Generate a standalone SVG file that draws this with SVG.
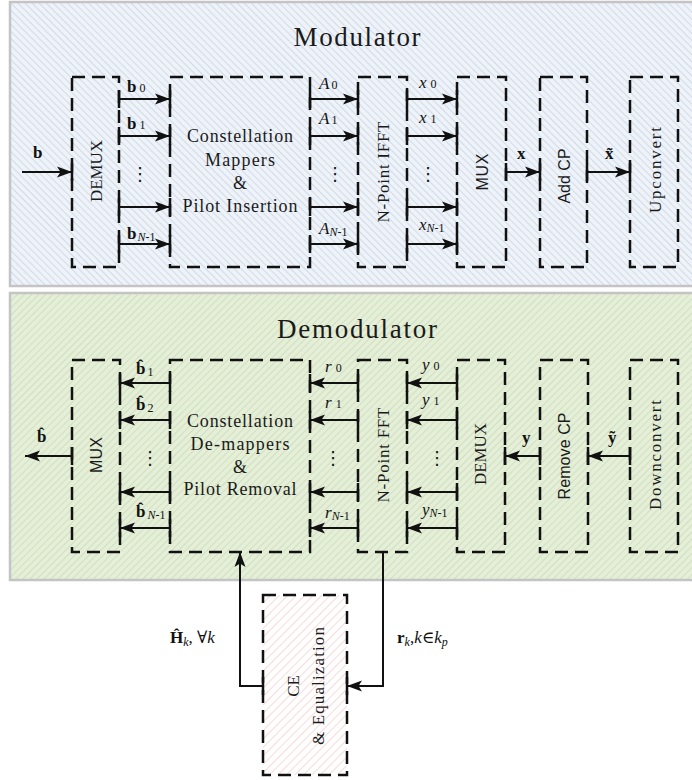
<svg xmlns="http://www.w3.org/2000/svg" width="692" height="780" viewBox="0 0 692 780">
  <defs>
    <pattern id="hatchMod" patternUnits="userSpaceOnUse" width="5" height="5" patternTransform="rotate(-45)">
      <rect width="5" height="5" fill="#eef3fa"/>
      <line x1="0" y1="0" x2="0" y2="5" stroke="#c0cad7" stroke-width="1.2"/>
    </pattern>
    <pattern id="hatchDem" patternUnits="userSpaceOnUse" width="5" height="5" patternTransform="rotate(45)">
      <rect width="5" height="5" fill="#e5efd8"/>
      <line x1="0" y1="0" x2="0" y2="5" stroke="#c3d4b0" stroke-width="1.2"/>
    </pattern>
    <pattern id="hatchCE" patternUnits="userSpaceOnUse" width="6" height="6" patternTransform="rotate(45)">
      <rect width="6" height="6" fill="#ffffff"/>
      <line x1="0" y1="0" x2="0" y2="6" stroke="#f5c2c2" stroke-width="1.2"/>
    </pattern>
    <marker id="ah" markerUnits="userSpaceOnUse" markerWidth="16" markerHeight="12" refX="15" refY="6" orient="auto">
      <path d="M0,0.5 L15,6 L0,11.5 L3.5,6 Z" fill="#111"/>
    </marker>
    <style>
      .panelM { fill: url(#hatchMod); stroke: #c4c4c4; stroke-width: 2.5; }
      .panelD { fill: url(#hatchDem); stroke: #c4c4c4; stroke-width: 2.5; }
      .blk { fill: none; stroke: #111; stroke-width: 2.5; stroke-dasharray: 13 7; }
      .ce { fill: url(#hatchCE); stroke: #111; stroke-width: 2.5; stroke-dasharray: 13 7; }
      .tick { stroke: #111; stroke-width: 2.5; fill: none; }
      .wire { stroke: #111; stroke-width: 2; fill: none; marker-end: url(#ah); }
      .title { font-family: "Liberation Serif", serif; font-size: 27px; fill: #1a1a1a; text-anchor: middle; }
      .body { font-family: "Liberation Serif", serif; font-size: 18px; fill: #1a1a1a; text-anchor: middle; }
      .serif { font-family: "Liberation Serif", serif; font-size: 17px; fill: #1a1a1a; text-anchor: middle; }
      .sans { font-family: "Liberation Sans", sans-serif; font-size: 16px; fill: #1a1a1a; text-anchor: middle; }
      .m { font-family: "Liberation Serif", "DejaVu Serif", serif; font-size: 17px; fill: #111; }
      .bold { font-weight: bold; }
      .it { font-style: italic; }
      .sub { font-size: 12px; }
      .dots { font-family: "DejaVu Sans", sans-serif; font-size: 18px; fill: #111; text-anchor: middle; }
    </style>
  </defs>

  <!-- background panels -->
  <g id="modulator-panel">
    <rect class="panelM" x="10" y="2" width="690" height="284"/>
    <text class="title" x="357" y="46" textLength="127" lengthAdjust="spacing">Modulator</text>
  </g>
  <g id="demodulator-panel">
    <rect class="panelD" x="10" y="293" width="690" height="287"/>
    <text class="title" x="357" y="338" textLength="160" lengthAdjust="spacing">Demodulator</text>
  </g>

  <!-- modulator blocks -->
  <g id="mod-demux">
    <rect class="blk" x="72" y="77" width="47" height="190"/>
    <path class="tick" d="M72,163 V181 M119,90 V108 M119,127 V145 M119,198 V216 M119,235 V253"/>
    <text class="serif" transform="translate(96,171) rotate(-90)" dy="6" textLength="62" lengthAdjust="spacingAndGlyphs">DEMUX</text>
  </g>
  <g id="mod-mapper">
    <rect class="blk" x="170" y="77" width="140" height="190"/>
    <path class="tick" d="M170,90 V108 M170,127 V145 M170,198 V216 M170,235 V253 M310,90 V108 M310,127 V145 M310,198 V216 M310,235 V253"/>
    <text class="body" x="240" y="142" textLength="106" lengthAdjust="spacing">Constellation</text>
    <text class="body" x="240" y="166" textLength="70" lengthAdjust="spacing">Mappers</text>
    <text class="body" x="240" y="189">&amp;</text>
    <text class="body" x="240" y="212" textLength="115" lengthAdjust="spacing">Pilot Insertion</text>
  </g>
  <g id="mod-ifft">
    <rect class="blk" x="358" y="77" width="49" height="190"/>
    <path class="tick" d="M358,90 V108 M358,127 V145 M358,198 V216 M358,235 V253 M407,90 V108 M407,127 V145 M407,198 V216 M407,235 V253"/>
    <text class="serif" transform="translate(383,172) rotate(-90)" dy="6" textLength="101" lengthAdjust="spacing">N-Point IFFT</text>
  </g>
  <g id="mod-mux">
    <rect class="blk" x="457" y="77" width="49" height="190"/>
    <path class="tick" d="M457,90 V108 M457,127 V145 M457,198 V216 M457,235 V253 M506,163 V181"/>
    <text class="sans" transform="translate(482,172) rotate(-90)" dy="6" textLength="37" lengthAdjust="spacing">MUX</text>
  </g>
  <g id="mod-addcp">
    <rect class="blk" x="540" y="77" width="47" height="190"/>
    <path class="tick" d="M540,163 V181 M587,163 V181"/>
    <text class="sans" transform="translate(564,176) rotate(-90)" dy="6" font-size="15">Add CP</text>
  </g>
  <g id="mod-upconvert">
    <rect class="blk" x="630" y="77" width="48" height="190"/>
    <path class="tick" d="M630,163 V181"/>
    <text class="serif" transform="translate(655,170) rotate(-90)" dy="6" textLength="86" lengthAdjust="spacing">Upconvert</text>
  </g>

  <!-- demodulator blocks -->
  <g id="dem-mux">
    <rect class="blk" x="72" y="360" width="48" height="192"/>
    <path class="tick" d="M72,447 V465 M120,374 V392 M120,411 V429 M120,483 V501 M120,519 V537"/>
    <text class="sans" transform="translate(96,455) rotate(-90)" dy="6" textLength="36" lengthAdjust="spacing">MUX</text>
  </g>
  <g id="dem-demapper">
    <rect class="blk" x="170" y="360" width="140" height="192"/>
    <path class="tick" d="M170,374 V392 M170,411 V429 M170,483 V501 M170,519 V537 M310,374 V392 M310,411 V429 M310,483 V501 M310,519 V537"/>
    <text class="body" x="240" y="427" textLength="106" lengthAdjust="spacing">Constellation</text>
    <text class="body" x="240" y="450" textLength="99" lengthAdjust="spacing">De-mappers</text>
    <text class="body" x="240" y="473">&amp;</text>
    <text class="body" x="240" y="495" textLength="113" lengthAdjust="spacing">Pilot Removal</text>
  </g>
  <g id="dem-fft">
    <rect class="blk" x="358" y="360" width="49" height="192"/>
    <path class="tick" d="M358,374 V392 M358,411 V429 M358,483 V501 M358,519 V537 M407,374 V392 M407,411 V429 M407,483 V501 M407,519 V537"/>
    <text class="serif" transform="translate(383,455) rotate(-90)" dy="6" textLength="95" lengthAdjust="spacing">N-Point FFT</text>
  </g>
  <g id="dem-demux">
    <rect class="blk" x="457" y="360" width="48" height="192"/>
    <path class="tick" d="M457,374 V392 M457,411 V429 M457,483 V501 M457,519 V537 M505,447 V465"/>
    <text class="serif" transform="translate(480,454) rotate(-90)" dy="6" textLength="62" lengthAdjust="spacingAndGlyphs">DEMUX</text>
  </g>
  <g id="dem-removecp">
    <rect class="blk" x="540" y="360" width="48" height="192"/>
    <path class="tick" d="M540,447 V465 M588,447 V465"/>
    <text class="sans" transform="translate(564,456) rotate(-90)" dy="6" textLength="87" lengthAdjust="spacing">Remove CP</text>
  </g>
  <g id="dem-downconvert">
    <rect class="blk" x="630" y="360" width="48" height="192"/>
    <path class="tick" d="M630,447 V465"/>
    <text class="serif" transform="translate(655,455) rotate(-90)" dy="6" textLength="110" lengthAdjust="spacing">Downconvert</text>
  </g>

  <!-- channel estimation block -->
  <g id="ce-equalization">
    <rect class="ce" x="263" y="595" width="84" height="180"/>
    <path class="tick" d="M263,677 V695 M347,677 V695"/>
    <text class="serif" transform="translate(293,686) rotate(-90)" dy="6" font-size="18">CE</text>
    <text class="serif" transform="translate(318,686) rotate(-90)" dy="6" textLength="118" lengthAdjust="spacing">&amp; Equalization</text>
  </g>

  <!-- connectors -->
  <g id="connectors">
    <!-- modulator chain -->
    <line class="wire" x1="22" y1="172" x2="72" y2="172"/>
    <line class="wire" x1="119" y1="99" x2="170" y2="99"/>
    <line class="wire" x1="119" y1="136" x2="170" y2="136"/>
    <line class="wire" x1="119" y1="207" x2="170" y2="207"/>
    <line class="wire" x1="119" y1="244" x2="170" y2="244"/>
    <line class="wire" x1="310" y1="99" x2="358" y2="99"/>
    <line class="wire" x1="310" y1="136" x2="358" y2="136"/>
    <line class="wire" x1="310" y1="207" x2="358" y2="207"/>
    <line class="wire" x1="310" y1="244" x2="358" y2="244"/>
    <line class="wire" x1="407" y1="99" x2="457" y2="99"/>
    <line class="wire" x1="407" y1="136" x2="457" y2="136"/>
    <line class="wire" x1="407" y1="207" x2="457" y2="207"/>
    <line class="wire" x1="407" y1="244" x2="457" y2="244"/>
    <line class="wire" x1="506" y1="172" x2="540" y2="172"/>
    <line class="wire" x1="587" y1="172" x2="630" y2="172"/>
    <!-- demodulator chain -->
    <line class="wire" x1="630" y1="456" x2="588" y2="456"/>
    <line class="wire" x1="540" y1="456" x2="505" y2="456"/>
    <line class="wire" x1="457" y1="383" x2="407" y2="383"/>
    <line class="wire" x1="457" y1="420" x2="407" y2="420"/>
    <line class="wire" x1="457" y1="492" x2="407" y2="492"/>
    <line class="wire" x1="457" y1="528" x2="407" y2="528"/>
    <line class="wire" x1="358" y1="383" x2="310" y2="383"/>
    <line class="wire" x1="358" y1="420" x2="310" y2="420"/>
    <line class="wire" x1="358" y1="492" x2="310" y2="492"/>
    <line class="wire" x1="358" y1="528" x2="310" y2="528"/>
    <line class="wire" x1="170" y1="383" x2="120" y2="383"/>
    <line class="wire" x1="170" y1="420" x2="120" y2="420"/>
    <line class="wire" x1="170" y1="492" x2="120" y2="492"/>
    <line class="wire" x1="170" y1="528" x2="120" y2="528"/>
    <line class="wire" x1="72" y1="456" x2="25" y2="456"/>
    <!-- channel estimation loop -->
    <path class="wire" d="M383,552 V686 H347"/>
    <path class="wire" d="M263,686 H240 V552"/>
  </g>

  <!-- signal labels: modulator -->
  <g id="mod-labels">
    <text class="m bold" x="33" y="158">b</text>
    <text class="m" x="127" y="92"><tspan class="bold">b</tspan><tspan class="sub" dx="3">0</tspan></text>
    <text class="m" x="127" y="129"><tspan class="bold">b</tspan><tspan class="sub" dx="3">1</tspan></text>
    <text class="dots" x="140" y="180">⋮</text>
    <text class="m" x="127" y="239"><tspan class="bold">b</tspan><tspan class="sub it" dx="1" dy="2">N</tspan><tspan class="sub">-1</tspan></text>
    <text class="m it" x="319" y="89">A<tspan class="sub" font-style="normal" dx="2">0</tspan></text>
    <text class="m it" x="319" y="124">A<tspan class="sub" font-style="normal" dx="2">1</tspan></text>
    <text class="dots" x="335" y="180">⋮</text>
    <text class="m it" x="319" y="234">A<tspan class="sub" dy="2">N</tspan><tspan class="sub" font-style="normal">-1</tspan></text>
    <text class="m it" x="419" y="88">x<tspan class="sub" font-style="normal" dx="4">0</tspan></text>
    <text class="m it" x="419" y="123">x<tspan class="sub" font-style="normal" dx="4">1</tspan></text>
    <text class="dots" x="428" y="180">⋮</text>
    <text class="m it" x="419" y="230">x<tspan class="sub" dy="2">N</tspan><tspan class="sub" font-style="normal">-1</tspan></text>
    <text class="m bold" x="517" y="159">x</text>
    <text class="m bold" x="605" y="159">x̃</text>
  </g>

  <!-- signal labels: demodulator -->
  <g id="dem-labels">
    <text class="m bold" x="37" y="442">b̂</text>
    <text class="m" x="136" y="374"><tspan class="bold">b̂</tspan><tspan class="sub" dx="2" dy="2">1</tspan></text>
    <text class="m" x="136" y="410"><tspan class="bold">b̂</tspan><tspan class="sub" dx="2" dy="2">2</tspan></text>
    <text class="dots" x="150" y="464">⋮</text>
    <text class="m" x="136" y="517"><tspan class="bold">b̂</tspan><tspan class="sub it" dx="2" dy="2">N</tspan><tspan class="sub">-1</tspan></text>
    <text class="m it" x="325" y="372">r<tspan class="sub" font-style="normal" dx="4">0</tspan></text>
    <text class="m it" x="325" y="408">r<tspan class="sub" font-style="normal" dx="4">1</tspan></text>
    <text class="dots" x="333" y="464">⋮</text>
    <text class="m it" x="325" y="518">r<tspan class="sub" dy="2">N</tspan><tspan class="sub" font-style="normal">-1</tspan></text>
    <text class="m it" x="422" y="370">y<tspan class="sub" font-style="normal" dx="4">0</tspan></text>
    <text class="m it" x="422" y="405">y<tspan class="sub" font-style="normal" dx="4">1</tspan></text>
    <text class="dots" x="437" y="464">⋮</text>
    <text class="m it" x="422" y="515">y<tspan class="sub" dy="2">N</tspan><tspan class="sub" font-style="normal">-1</tspan></text>
    <text class="m bold" x="522" y="443">y</text>
    <text class="m bold" x="608" y="443">ỹ</text>
  </g>

  <!-- channel estimation labels -->
  <g id="ce-labels">
    <text class="m" x="170" y="643" font-size="15"><tspan class="bold">Ĥ</tspan><tspan class="sub it" font-size="10" dy="3">k</tspan><tspan dy="-3">, ∀</tspan><tspan class="it">k</tspan></text>
    <text class="m" x="397" y="643" font-size="15"><tspan class="bold">r</tspan><tspan class="sub it" font-size="10" dy="3">k</tspan><tspan dy="-3">,</tspan><tspan class="it">k</tspan><tspan>∈</tspan><tspan class="it">k</tspan><tspan class="sub it" font-size="10" dy="3">p</tspan></text>
  </g>
</svg>
